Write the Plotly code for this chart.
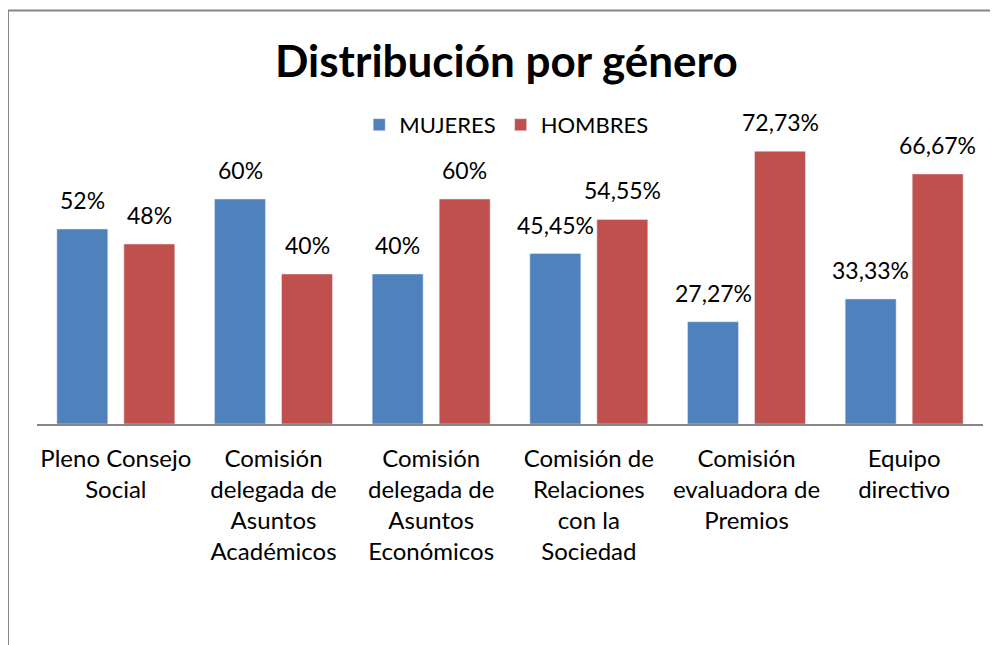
import plotly.graph_objects as go

categories = ["Pleno Consejo<br>Social",
              "Comisión<br>delegada de<br>Asuntos<br>Académicos",
              "Comisión<br>delegada de<br>Asuntos<br>Económicos",
              "Comisión de<br>Relaciones<br>con la<br>Sociedad",
              "Comisión<br>evaluadora de<br>Premios",
              "Equipo<br>directivo"]
mujeres = [0.52, 0.60, 0.40, 0.4545, 0.2727, 0.3333]
hombres = [0.48, 0.40, 0.60, 0.5455, 0.7273, 0.6667]
mujeres_labels = ["52%", "60%", "40%", "45,45%", "27,27%", "33,33%"]
hombres_labels = ["48%", "40%", "60%", "54,55%", "72,73%", "66,67%"]

BLUE = "#4F81BD"
RED = "#C0504D"
FONT = "Lato, Calibri, sans-serif"

fig = go.Figure()
fig.add_trace(go.Bar(name="MUJERES", x=categories, y=mujeres, marker_color=BLUE))
fig.add_trace(go.Bar(name="HOMBRES", x=categories, y=hombres, marker_color=RED))

annotations = []
for cat, v, t in zip(categories, mujeres, mujeres_labels):
    annotations.append(dict(x=cat, y=v, text=t, showarrow=False, xshift=-33.5, yshift=29,
                            yanchor="middle", font=dict(size=23, color="#000000", family=FONT)))
for cat, v, t in zip(categories, hombres, hombres_labels):
    annotations.append(dict(x=cat, y=v, text=t, showarrow=False, xshift=33.5, yshift=29,
                            yanchor="middle", font=dict(size=23, color="#000000", family=FONT)))

annotations.append(dict(xref="paper", yref="paper", x=0.496, y=1.213, text="<b>Distribución por género</b>",
                        showarrow=False, xanchor="center", yanchor="middle",
                        font=dict(size=44, color="#000000", family=FONT)))

fig.update_layout(
    width=990, height=637,
    margin=dict(l=29, r=15, t=116, b=221),
    paper_bgcolor="white", plot_bgcolor="white",
    font=dict(family=FONT, size=22, color="#000000"),
    barmode="group", bargap=0.15, bargroupgap=0.24,
    showlegend=True,
    legend=dict(orientation="h", x=0.496, y=0.997, xanchor="center", yanchor="middle",
                font=dict(size=22, family=FONT), bgcolor="rgba(0,0,0,0)", itemwidth=30),
    xaxis=dict(showline=True, linecolor="#868686", linewidth=2, ticks="", showgrid=False,
               tickfont=dict(size=24, family=FONT), ticklabelstandoff=12),
    yaxis=dict(range=[0, 0.8], showticklabels=False, showgrid=False, zeroline=False, showline=False),
    annotations=annotations,
    shapes=[
        dict(type="line", xref="paper", yref="paper", x0=-0.0307, x1=1.1, y0=1.378, y1=1.378,
             line=dict(color="#868686", width=2)),
        dict(type="line", xref="paper", yref="paper", x0=-0.0307, x1=-0.0307, y0=1.378, y1=-1.0,
             line=dict(color="#868686", width=2)),
    ],
)

fig.write_html("out.html")
